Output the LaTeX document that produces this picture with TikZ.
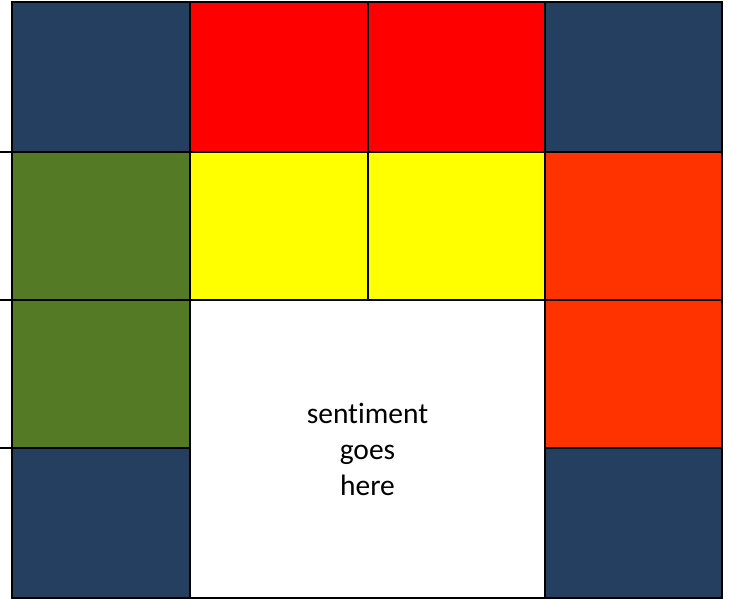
\documentclass[tikz,border=0pt]{standalone}
\usepackage{fontspec}
\setmainfont{Carlito}[Ligatures=NoCommon]
\definecolor{dblue}{HTML}{243F60}
\definecolor{myred}{HTML}{FF0000}
\definecolor{mygreen}{HTML}{557A26}
\definecolor{myyellow}{HTML}{FFFF00}
\definecolor{myorange}{HTML}{FF3300}
\begin{document}
\begin{tikzpicture}[x=1pt,y=-1pt,
  cell/.style={draw=black,line width=2pt,inner sep=0pt,outer sep=0pt,minimum width=#1},
  cell/.default=178pt]
\useasboundingbox (0,0) rectangle (732,599);
% row 1
\node[cell, fill=dblue, minimum height=150pt] (a1) at (101,77) {};
\node[cell, fill=myred, minimum height=150pt] (a2) at (279,77) {};
\node[cell=177pt, fill=myred, minimum height=150pt] (a3) at (456.5,77) {};
\node[cell=177pt, fill=dblue, minimum height=150pt] (a4) at (633.5,77) {};
% row 2
\node[cell, fill=mygreen, minimum height=148pt] (b1) at (101,226) {};
\node[cell, fill=myyellow, minimum height=148pt] (b2) at (279,226) {};
\node[cell=177pt, fill=myyellow, minimum height=148pt] (b3) at (456.5,226) {};
\node[cell=177pt, fill=myorange, minimum height=148pt] (b4) at (633.5,226) {};
% row 3
\node[cell, fill=mygreen, minimum height=148pt] (c1) at (101,374) {};
\node[cell=177pt, fill=myorange, minimum height=148pt] (c4) at (633.5,374) {};
% row 4
\node[cell, fill=dblue, minimum height=150pt] (d1) at (101,523) {};
\node[cell=177pt, fill=dblue, minimum height=150pt] (d4) at (633.5,523) {};
% centre
\node[cell=355pt, fill=white, minimum height=298pt, align=center,
  font=\fontsize{29.5}{36}\selectfont] (w) at (367.5,449) {sentiment\\goes\\here};
% stubs on the left
\coordinate (s1) at (0,152);
\coordinate (s2) at (0,300);
\coordinate (s3) at (0,448);
\draw[line width=2pt] (s1) -- (b1.north west);
\draw[line width=2pt] (s2) -- (c1.north west);
\draw[line width=2pt] (s3) -- (d1.north west);
\end{tikzpicture}
\end{document}
